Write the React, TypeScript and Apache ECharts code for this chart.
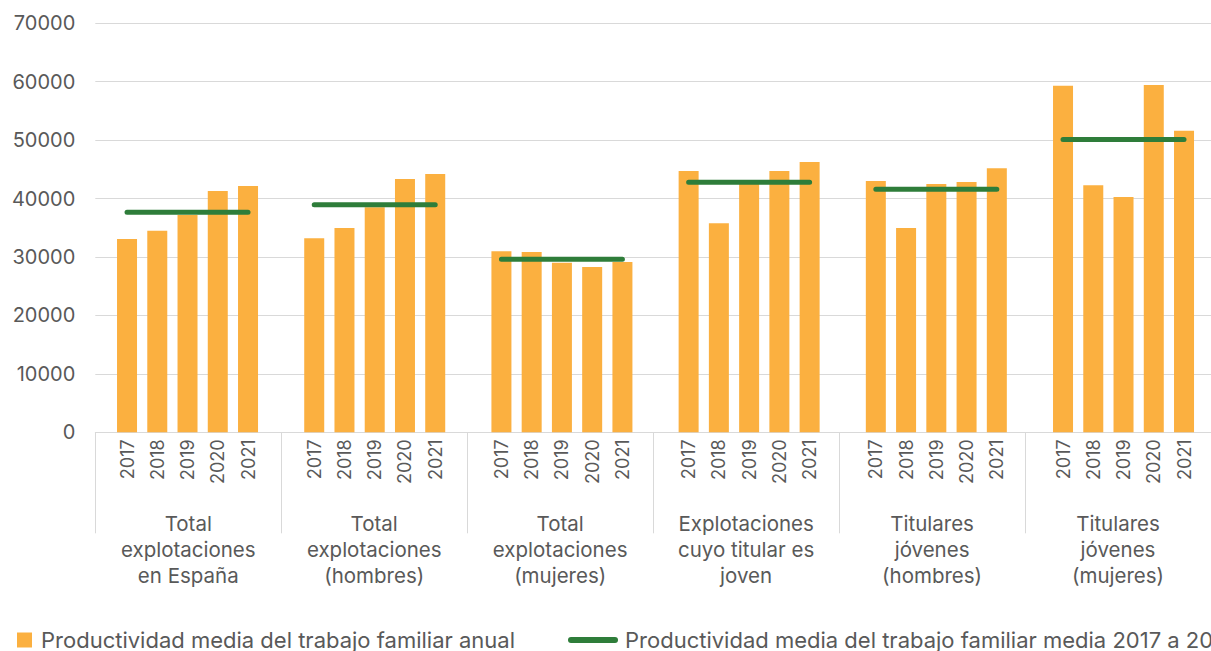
import React, { useEffect, useRef } from "react";
import * as echarts from "echarts";

const groupLabels = [
  "Total\nexplotaciones\nen España",
  "Total\nexplotaciones\n(hombres)",
  "Total\nexplotaciones\n(mujeres)",
  "Explotaciones\ncuyo titular es\njoven",
  "Titulares\njóvenes\n(hombres)",
  "Titulares\njóvenes\n(mujeres)",
];
const years = ["2017", "2018", "2019", "2020", "2021"];
const annualValues = [
  [33100, 34500, 37200, 41300, 42150],
  [33200, 34950, 38500, 43350, 44200],
  [31000, 30850, 29000, 28300, 29150],
  [44700, 35800, 42500, 44700, 46250],
  [43000, 34950, 42500, 42850, 45200],
  [59300, 42300, 40250, 59450, 51600],
];
const averageValues = [37650, 38950, 29600, 42800, 41600, 50100];
const yTicks = { min: 0, max: 70000, interval: 10000 };

const barName = "Productividad media del trabajo familiar anual";
const lineName = "Productividad media del trabajo familiar media 2017 a 2021";

const FONT = "Inter, 'Noto Sans', sans-serif";
const TEXT = "#595959";
const ORANGE = "#FBB040";
const GREEN = "#2E7D3A";

export default function App() {
  const ref = useRef<HTMLDivElement>(null);
  useEffect(() => {
    if (!ref.current) return;
    const chart = echarts.init(ref.current, undefined, { renderer: "svg" });
    const plotLeft = 95.3;
    const plotTop = 23.3;
    const plotHeight = 409;
    const groupW = 187.2;
    const innerOffset = 16.6;
    const innerW = 151.25;

    const grids: any[] = [
      { left: plotLeft, top: plotTop, width: groupW * 6, height: plotHeight },
    ];
    const xAxes: any[] = [
      {
        type: "category",
        gridIndex: 0,
        data: groupLabels,
        boundaryGap: true,
        axisLine: { lineStyle: { color: "#d9d9d9", width: 1 } },
        axisTick: { show: true, interval: 0, length: 101, lineStyle: { color: "#d9d9d9" } },
        axisLabel: {
          interval: 0,
          margin: 78,
          color: TEXT,
          fontFamily: FONT,
          fontSize: 20.5,
          lineHeight: 26,
          align: "center",
        },
      },
    ];
    const yAxes: any[] = [
      {
        type: "value",
        gridIndex: 0,
        ...yTicks,
        axisLine: { show: false },
        axisTick: { show: false },
        splitLine: { lineStyle: { color: "#d9d9d9", width: 1 } },
        axisLabel: {
          color: TEXT,
          fontFamily: FONT,
          fontSize: 20,
          margin: 20,
          formatter: (v: number) => String(v),
        },
      },
    ];
    const series: any[] = [];
    const lineSeries: any[] = [];
    annualValues.forEach((vals, g) => {
      const gi = g + 1;
      grids.push({
        left: plotLeft + g * groupW + innerOffset,
        top: plotTop,
        width: innerW,
        height: plotHeight,
      });
      xAxes.push({
        type: "category",
        gridIndex: gi,
        data: years,
        boundaryGap: true,
        axisLine: { show: false },
        axisTick: { show: false },
        axisLabel: {
          interval: 0,
          rotate: 90,
          margin: 7,
          color: TEXT,
          fontFamily: FONT,
          fontSize: 18,
        },
      });
      yAxes.push({
        type: "value",
        gridIndex: gi,
        ...yTicks,
        show: false,
        splitLine: { show: false },
      });
      series.push({
        name: barName,
        type: "bar",
        xAxisIndex: gi,
        yAxisIndex: gi,
        data: vals,
        barWidth: 20,
        itemStyle: { color: ORANGE },
      });
      lineSeries.push({
        name: lineName,
        type: "line",
        xAxisIndex: gi,
        yAxisIndex: gi,
        data: years.map(() => averageValues[g]),
        showSymbol: false,
        symbol: "none",
        z: 5,
        lineStyle: { color: GREEN, width: 5, cap: "round" },
        itemStyle: { color: GREEN },
      });
    });

    chart.setOption({
      animation: false,
      backgroundColor: "#ffffff",
      grid: grids,
      xAxis: xAxes,
      yAxis: yAxes,
      legend: [
        {
          left: 17,
          top: 629,
          padding: 0,
          data: [{ name: barName, icon: "rect" }],
          itemWidth: 15,
          itemHeight: 15,
          textStyle: { color: TEXT, fontFamily: FONT, fontSize: 22, padding: [0, 0, 0, 4] },
          selectedMode: false,
        },
        {
          left: 568,
          top: 629,
          padding: 0,
          width: 1400,
          data: [
            {
              name: lineName,
              icon: "path://M3,0 L47,0 A3,3 0 0 1 47,6 L3,6 A3,3 0 0 1 3,0 Z",
            },
          ],
          itemWidth: 50,
          itemHeight: 6,
          itemStyle: { color: GREEN },
          textStyle: { color: TEXT, fontFamily: FONT, fontSize: 22, padding: [0, 0, 0, 2] },
          selectedMode: false,
        },
      ],
      series: [...series, ...lineSeries],
    });
    return () => chart.dispose();
  }, []);
  return (
    <div
      ref={ref}
      style={{ position: "absolute", left: 0, top: 0, width: 1211, height: 651 }}
    />
  );
}
